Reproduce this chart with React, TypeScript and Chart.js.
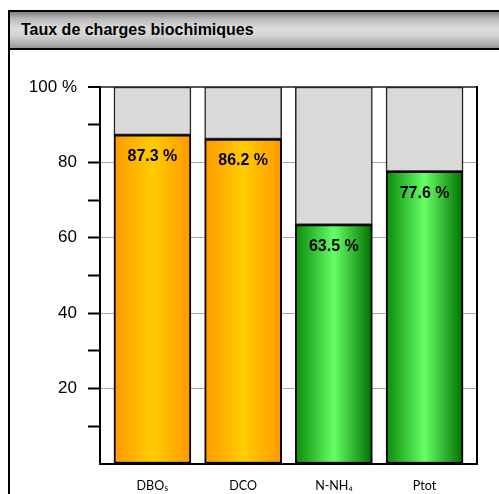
import React, { useEffect, useRef } from 'react';
import { Chart, registerables } from 'chart.js';

Chart.register(...registerables);

const chartTitle = 'Taux de charges biochimiques';
const categories = ['DBO₅', 'DCO', 'N-NH₄', 'Ptot'];
const rates = [87.3, 86.2, 63.5, 77.6];
const remainders = [12.7, 13.8, 36.5, 22.4];
const yTickValues = [0, 10, 20, 30, 40, 50, 60, 70, 80, 90, 100];
const gradientStops = [
  ['#FF9900', '#FFCC00', '#FF9900'],
  ['#FF9900', '#FFCC00', '#FF9900'],
  ['#0A8A0A', '#66FF66', '#007000'],
  ['#0A8A0A', '#66FF66', '#007000'],
];

const BAR_W = 77;

const valueLabels = {
  id: 'valueLabels',
  afterDatasetsDraw(chart: any) {
    const ctx = chart.ctx;
    const area = chart.chartArea;
    ctx.save();
    ctx.strokeStyle = '#000';
    ctx.lineWidth = 2;
    ctx.beginPath();
    ctx.moveTo(area.right, area.top - 1);
    ctx.lineTo(area.right, area.bottom + 1);
    ctx.stroke();
    const meta = chart.getDatasetMeta(0);
    ctx.font = 'bold 16px "Liberation Sans", Arial, sans-serif';
    ctx.fillStyle = '#000';
    ctx.textAlign = 'center';
    ctx.textBaseline = 'middle';
    meta.data.forEach((bar: any, i: number) => {
      ctx.fillText(`${rates[i].toFixed(1)} %`, bar.x, bar.y + 22);
    });
    ctx.restore();
  },
};

function gradientFor(ctx: any) {
  const chart = ctx.chart;
  const i = ctx.dataIndex;
  const stops = gradientStops[i] || gradientStops[0];
  const xs = chart.scales && chart.scales.x;
  if (!xs || !chart.chartArea) return stops[1];
  const cx = xs.getPixelForValue(i);
  if (!isFinite(cx)) return stops[1];
  const g = chart.ctx.createLinearGradient(cx - BAR_W / 2, 0, cx + BAR_W / 2, 0);
  g.addColorStop(0, stops[0]);
  g.addColorStop(0.5, stops[1]);
  g.addColorStop(1, stops[2]);
  return g;
}

function ChartCanvas() {
  const ref = useRef<HTMLCanvasElement | null>(null);
  useEffect(() => {
    if (!ref.current) return;
    const chart = new Chart(ref.current, {
      type: 'bar',
      data: {
        datasets: [
          {
            label: 'taux',
            data: rates.map((v, i) => ({ x: i, y: v })),
            backgroundColor: gradientFor,
            borderColor: '#000',
            borderWidth: 2,
            borderSkipped: false,
            barThickness: BAR_W,
          },
          {
            label: 'reste',
            data: remainders.map((v, i) => ({ x: i, y: v })),
            backgroundColor: '#D9D9D9',
            borderColor: '#222',
            borderWidth: 1.5,
            borderSkipped: false,
            barThickness: BAR_W,
          },
        ],
      } as any,
      options: {
        animation: false,
        responsive: false,
        maintainAspectRatio: false,
        layout: { padding: { top: 37, right: 22, left: 0, bottom: 0 } },
        plugins: {
          legend: { display: false },
          tooltip: { enabled: false },
          title: { display: false },
        },
        scales: {
          x: {
            type: 'linear',
            stacked: true,
            offset: false,
            min: -0.578,
            max: 3.578,
            afterBuildTicks: (scale: any) => {
              scale.ticks = categories.map((_, i) => ({ value: i }));
            },
            afterFit: (scale: any) => {
              scale.height = 30;
            },
            grid: { display: false, drawTicks: false, offset: false },
            border: { display: true, color: '#000', width: 2 },
            ticks: {
              autoSkip: false,
              maxRotation: 0,
              padding: 14,
              color: '#000',
              font: { family: 'Lato, "Open Sans", sans-serif', size: 12.5 },
              callback: (v: any) => categories[Math.round(Number(v))] ?? '',
            },
          },
          y: {
            stacked: true,
            min: 0,
            max: 100,
            afterBuildTicks: (scale: any) => {
              scale.ticks = yTickValues.map((v) => ({ value: v }));
            },
            afterFit: (scale: any) => {
              scale.width = 90;
            },
            grid: {
              drawTicks: true,
              tickLength: 12,
              tickWidth: 2,
              color: (c: any) => {
                const v = c.tick ? c.tick.value : 0;
                if (v === 100) return '#555';
                if (v > 0 && v % 20 === 0) return '#A6A6A6';
                return 'rgba(0,0,0,0)';
              },
              lineWidth: (c: any) => (c.tick && c.tick.value === 100 ? 2 : 1),
              tickColor: (c: any) => (c.tick && c.tick.value === 0 ? 'rgba(0,0,0,0)' : '#000'),
            },
            border: { display: true, color: '#000', width: 2 },
            ticks: {
              autoSkip: false,
              padding: 11,
              color: '#000',
              font: { family: '"Liberation Sans", Arial, sans-serif', size: 17 },
              callback: (v: any) => {
                const n = Number(v);
                if (n === 100) return '100 %';
                if (n > 0 && n % 20 === 0) return String(n);
                return '';
              },
            },
          },
        },
      } as any,
      plugins: [valueLabels],
    });
    return () => chart.destroy();
  }, []);
  return <canvas ref={ref} width={489} height={444} style={{ display: 'block', width: 489, height: 444 }} />;
}

export default function App() {
  return (
    <div style={{ position: 'fixed', left: 0, top: 0, width: 499, height: 494, overflow: 'hidden', background: '#fff' }}>
      <div
        style={{
          position: 'absolute',
          left: 8,
          top: 10,
          width: 560,
          height: 560,
          border: '2px solid #000',
          boxSizing: 'border-box',
          background: '#fff',
        }}
      >
        <div
          style={{
            height: 36,
            borderBottom: '2px solid #000',
            background: 'linear-gradient(to bottom, #808080 0%, #b8b8b8 18%, #dcdcdc 45%, #d4d4d4 65%, #b0b0b0 88%, #949494 100%)',
            display: 'flex',
            alignItems: 'center',
            paddingLeft: 11,
            fontFamily: '"Liberation Sans", Arial, sans-serif',
            fontWeight: 'bold',
            fontSize: 16,
            color: '#000',
            boxSizing: 'content-box',
            width: 556,
          }}
        >
          {chartTitle}
        </div>
        <ChartCanvas />
      </div>
    </div>
  );
}
